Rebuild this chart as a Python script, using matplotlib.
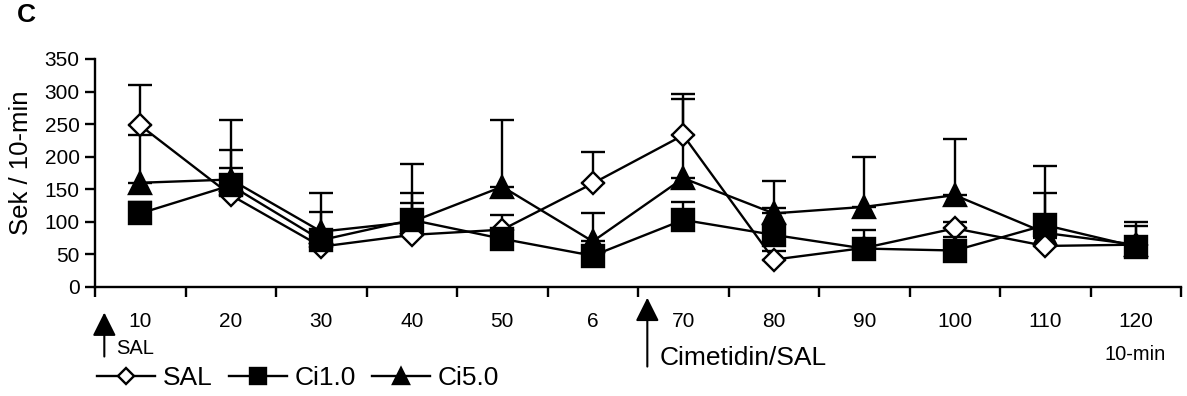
import matplotlib
matplotlib.use("Agg")
import matplotlib.pyplot as plt
import matplotlib.transforms as mtransforms
import numpy as np

plt.rcParams['font.family'] = ['Liberation Sans', 'DejaVu Sans']

# x categories (10-min bins)
labels = ['10', '20', '30', '40', '50', '6', '70', '80', '90', '100', '110', '120']

sal = [248, 141, 62, 80, 88, 159, 233, 42, 60, 90, 63, 65]
sal_top = [310, 183, 70, 129, 110, 208, 289, 55, 70, 100, 75, 94]

ci1 = [113, 156, 72, 103, 74, 48, 103, 80, 59, 56, 95, 62]
ci1_top = [130, 210, 115, 145, 85, 60, 130, 122, 87, 77, 145, 75]

ci5 = [160, 165, 85, 100, 154, 70, 167, 113, 123, 141, 83, 65]
ci5_top = [233, 257, 145, 189, 257, 113, 296, 162, 199, 227, 186, 100]

fig = plt.figure(figsize=(11.87, 3.96), dpi=100)
ax = fig.add_axes([95/1187, 1-287/396, 1086/1187, 228/396])

x = np.arange(len(labels))

def series(y, top, marker, ms, face, z, name):
    y = np.array(y)
    up = np.array(top) - y
    ax.errorbar(x, y, yerr=[np.zeros_like(up), up], fmt='none', ecolor='k',
                elinewidth=1.7, capsize=8.5, capthick=1.7, zorder=z)
    ax.plot(x, y, color='k', lw=1.7, marker=marker, ms=ms, mfc=face,
            mec='k', mew=1.7, zorder=z + 0.5, label=name)

series(ci5, ci5_top, '^', 16, 'k', 2, 'Ci5.0')
series(sal, sal_top, 'D', 11.5, 'white', 3, 'SAL')
series(ci1, ci1_top, 's', 16, 'k', 4, 'Ci1.0')

ax.set_xlim(-0.5, len(labels) - 0.5)
ax.set_ylim(0, 350)
ax.set_yticks(np.arange(0, 351, 50))
ax.set_xticks(np.arange(-0.5, len(labels), 1.0))
ax.set_xticklabels([])
ax.set_xticks(x, minor=True)
ax.set_xticklabels(labels, minor=True)
ax.tick_params(axis='x', which='minor', length=0, labelsize=15, pad=18)
ax.tick_params(axis='x', which='major', direction='out', length=7, width=1.7)
ax.tick_params(axis='y', direction='out', length=7, width=1.7, labelsize=15, pad=4)
for s in ['top', 'right']:
    ax.spines[s].set_visible(False)
for s in ['left', 'bottom']:
    ax.spines[s].set_linewidth(1.7)

fig.text(21/1187, 1-163/396, 'Sek / 10-min', rotation=90, ha='center', va='center', fontsize=18.5)
fig.text(17/1187, 1-22/396, 'C', fontweight='bold', fontsize=19, va='baseline')

# arrows below axis
tr = mtransforms.blended_transform_factory(ax.transData, ax.transAxes)
ap = dict(arrowstyle='-|>', mutation_scale=36, lw=1.5, color='k', shrinkA=0, shrinkB=0)
ax.annotate('', xy=(-0.397, -0.112), xytext=(-0.397, -0.305), xycoords=tr,
            textcoords=tr, arrowprops=ap, annotation_clip=False)
ax.annotate('', xy=(5.603, -0.047), xytext=(5.603, -0.349), xycoords=tr,
            textcoords=tr, arrowprops=ap, annotation_clip=False)
fig.text(116/1187, 1-354/396, 'SAL', fontsize=14.5, va='baseline')
fig.text(660/1187, 1-365/396, 'Cimetidin/SAL', fontsize=19, va='baseline')
fig.text(1135/1187, 1-360/396, '10-min', fontsize=14.5, ha='center', va='baseline')

h, l = ax.get_legend_handles_labels()
order = [1, 2, 0]
leg = fig.legend([h[i] for i in order], [l[i] for i in order], loc='center left',
                 bbox_to_anchor=(97/1187, 1-378/396), ncol=3, frameon=False,
                 fontsize=19, handlelength=2.2, handletextpad=0.3,
                 columnspacing=0.6, markerscale=0.72, borderpad=0, borderaxespad=0)

fig.savefig('out.png', dpi=100)
